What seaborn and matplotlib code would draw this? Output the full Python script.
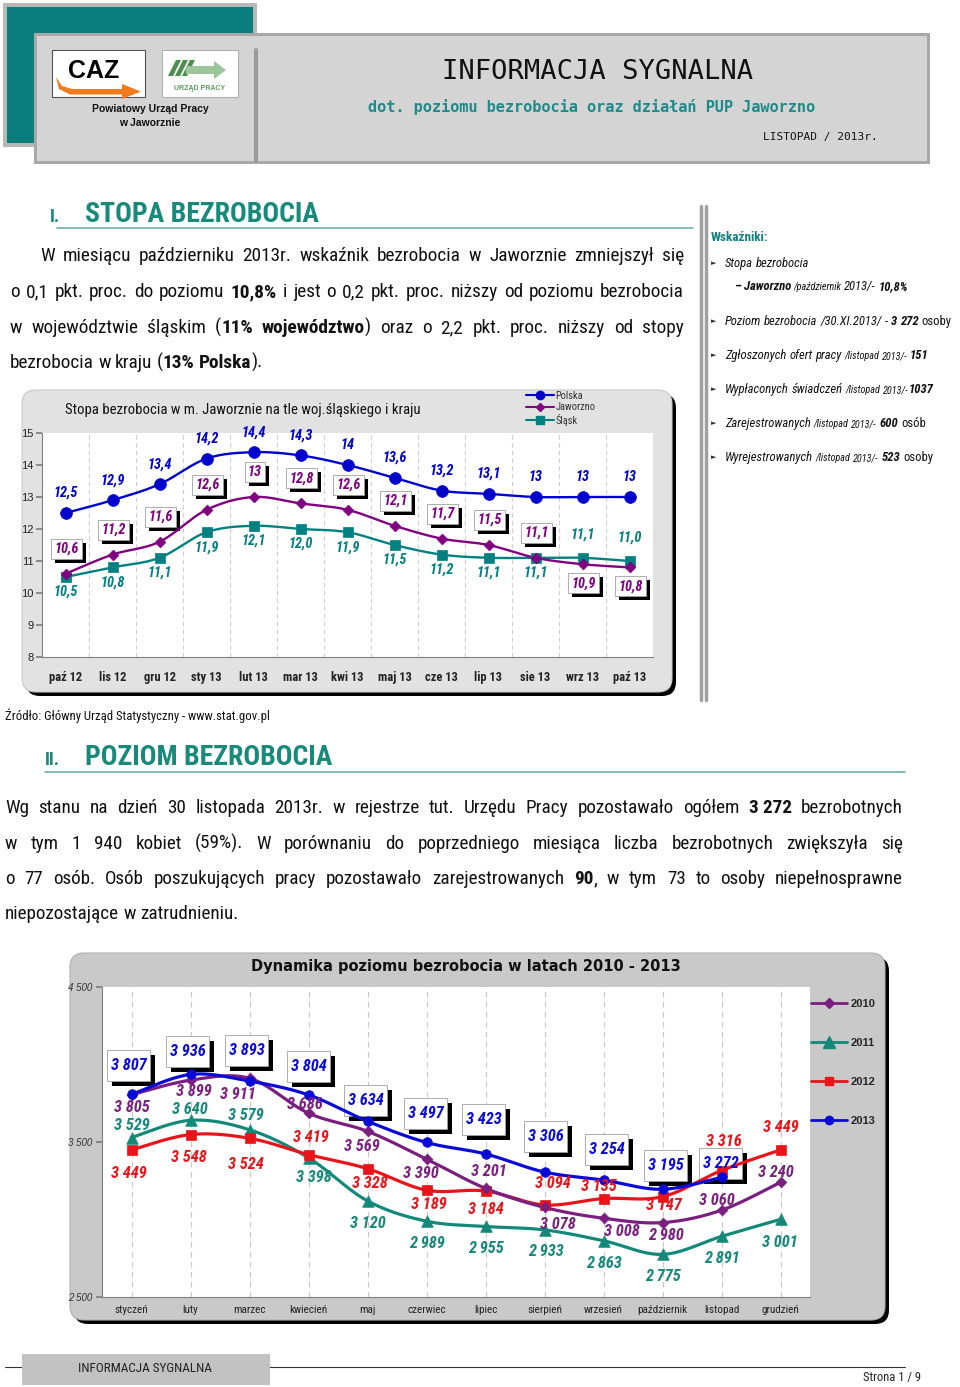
import numpy as np
import pandas as pd
import matplotlib
matplotlib.use("Agg")
import matplotlib.pyplot as plt
import seaborn as sns
from matplotlib.patches import Rectangle, FancyBboxPatch, Polygon
from matplotlib.lines import Line2D
from matplotlib import font_manager

# ---------------- data ----------------
months1 = ['paź 12', 'lis 12', 'gru 12', 'sty 13', 'lut 13', 'mar 13', 'kwi 13',
           'maj 13', 'cze 13', 'lip 13', 'sie 13', 'wrz 13', 'paź 13']
polska = [12.5, 12.9, 13.4, 14.2, 14.4, 14.3, 14.0, 13.6, 13.2, 13.1, 13.0, 13.0, 13.0]
jaworzno = [10.6, 11.2, 11.6, 12.6, 13.0, 12.8, 12.6, 12.1, 11.7, 11.5, 11.1, 10.9, 10.8]
slask = [10.5, 10.8, 11.1, 11.9, 12.1, 12.0, 11.9, 11.5, 11.2, 11.1, 11.1, 11.1, 11.0]
yticks1 = [8, 9, 10, 11, 12, 13, 14, 15]

months2 = ['styczeń', 'luty', 'marzec', 'kwiecień', 'maj', 'czerwiec', 'lipiec',
           'sierpień', 'wrzesień', 'październik', 'listopad', 'grudzień']
y2010 = [3805, 3899, 3911, 3686, 3569, 3390, 3201, 3078, 3008, 2980, 3060, 3240]
y2011 = [3529, 3640, 3579, 3398, 3120, 2989, 2955, 2933, 2863, 2775, 2891, 3001]
y2012 = [3449, 3548, 3524, 3419, 3328, 3189, 3184, 3094, 3135, 3147, 3316, 3449]
y2013 = [3807, 3936, 3893, 3804, 3634, 3497, 3423, 3306, 3254, 3195, 3272]
yticks2 = [2500, 3500, 4500]

# ---------------- label layout offsets (pixels) ----------------
off_2010 = [(0, -13), (3, -11), (-12, -16), (-4, 9), (-6, -15), (-6, -14), (3, 17),
            (13, -17), (18, -13), (3, -13), (-5, 10), (-5, 10)]
off_2011 = [(0, 12), (-1, 11), (-4, 14), (5, -20), (0, -23), (0, -22), (0, -22),
            (1, -22), (0, -23), (0, -22), (0, -22), (-1, -23)]
off_2012 = [(-3, -24), (-2, -23), (-4, -26), (2, 17), (2, -15), (2, -14), (0, -19),
            (8, 21), (-5, 12), (1, -9), (2, 29), (0, 22)]
off_2013 = [(-3, 29), (-3, 23), (-3, 31), (0, 28), (-2, 21), (-1, 29), (-2, 34),
            (1, 36), (3, 31), (3, 24), (-1, 14)]

sns.set_theme(style="white")

# ---- find a condensed face if one is installed ----
_fl = font_manager.fontManager.ttflist
_names = sorted({f.name for f in _fl})
NARROW_NAME, NARROW_STRETCH = None, "normal"
for pref in ["Liberation Sans Narrow", "Arial Narrow", "Nimbus Sans Narrow",
             "Roboto Condensed", "Open Sans Condensed", "Noto Sans Condensed",
             "DejaVu Sans Condensed", "Ubuntu Condensed"]:
    if pref in _names:
        NARROW_NAME = pref
        break
if NARROW_NAME is None:
    for n in _names:
        if "narrow" in n.lower() or "condensed" in n.lower():
            NARROW_NAME = n
            break
if NARROW_NAME is None:
    for f in _fl:
        st = f.stretch
        if (isinstance(st, str) and "condensed" in st) or (isinstance(st, int) and st < 500):
            NARROW_NAME, NARROW_STRETCH = f.name, st
            break
if NARROW_NAME is None:
    NARROW = ["Liberation Sans", "DejaVu Sans"]
    NS = 0.84
else:
    NARROW = [NARROW_NAME, "Liberation Sans", "DejaVu Sans"]
    NS = 1.0

ARIAL = ["Liberation Sans", "DejaVu Sans"]
MONO = ["DejaVu Sans Mono", "DejaVu Sans"]
plt.rcParams["font.family"] = NARROW

W, H = 960, 1387
fig = plt.figure(figsize=(W / 100, H / 100), dpi=100)
fig.patch.set_facecolor("white")
bg = fig.add_axes([0, 0, 1, 1])
bg.set_xlim(0, W)
bg.set_ylim(H, 0)
bg.axis("off")
bg.set_zorder(0)
R = fig.canvas.get_renderer()


def axrect(x0, y0, x1, y1):
    return [x0 / W, 1 - y1 / H, (x1 - x0) / W, (y1 - y0) / H]


def P(size, bold=False, italic=False, color="#111111", family=None):
    d = dict(fontsize=size * NS, fontweight="bold" if bold else "normal",
             fontstyle="italic" if italic else "normal", color=color,
             family=family if family else NARROW)
    if NARROW_STRETCH != "normal":
        d["fontstretch"] = NARROW_STRETCH
    return d


_wc = {}


def tw(s, p):
    key = (s, tuple(sorted((k, str(v)) for k, v in p.items())))
    if key not in _wc:
        t = bg.text(0, 0, s, **p)
        _wc[key] = t.get_window_extent(R).width
        t.remove()
    return _wc[key]


def sw(p):
    return tw("n n", p) - tw("nn", p)


def draw_runs(x, y, runs):
    for txt, p in runs:
        parts = txt.split(" ")
        for i, part in enumerate(parts):
            if i > 0:
                x += sw(p)
            if part:
                bg.text(x, y, part, ha="left", va="baseline", **p)
                x += tw(part, p)
    return x


def para(lines, x0s, x1, ys, size, justify_last=False):
    bold = False
    for li, line in enumerate(lines):
        words = []
        for word in line.split(" "):
            segs = []
            for k, part in enumerate(word.split("*")):
                if k > 0:
                    bold = not bold
                if part:
                    segs.append((part, P(size, bold)))
            if segs:
                words.append(segs)
        widths = [sum(tw(s, p) for s, p in w) for w in words]
        last = li == len(lines) - 1
        if (not last or justify_last) and len(words) > 1:
            gap = (x1 - x0s[li] - sum(widths)) / (len(words) - 1)
        else:
            gap = sw(P(size))
        x = x0s[li]
        for w, wd in zip(words, widths):
            xx = x
            for s, p in w:
                bg.text(xx, ys[li], s, ha="left", va="baseline", **p)
                xx += tw(s, p)
            x += wd + gap


def smooth(xs, ys, n=24):
    pts = np.column_stack([xs, ys]).astype(float)
    out = [pts[0]]
    t = np.linspace(0, 1, n)[1:, None]
    for i in range(len(pts) - 1):
        p0 = pts[i - 1] if i > 0 else pts[i]
        p1, p2 = pts[i], pts[i + 1]
        p3 = pts[i + 2] if i + 2 < len(pts) else pts[i + 1]
        c1 = p1 + (p2 - p0) / 6
        c2 = p2 - (p3 - p1) / 6
        seg = (1 - t) ** 3 * p1 + 3 * (1 - t) ** 2 * t * c1 + 3 * (1 - t) * t ** 2 * c2 + t ** 3 * p2
        out.extend(seg)
    out = np.array(out)
    return out[:, 0], out[:, 1]


def add_boxes(ax, texts, padx, pady, sh):
    inv = ax.transData.inverted()
    for t in texts:
        bb = t.get_window_extent(R)
        x0, y0 = bb.x0 - padx, bb.y0 - pady
        x1, y1 = bb.x1 + padx, bb.y1 + pady
        a = inv.transform((x0 + sh, y0 - sh)); b = inv.transform((x1 + sh, y1 - sh))
        ax.add_patch(Rectangle(a, b[0] - a[0], b[1] - a[1], fc="black", ec="none",
                               zorder=1.5, clip_on=False))
        a = inv.transform((x0, y0)); b = inv.transform((x1, y1))
        ax.add_patch(Rectangle(a, b[0] - a[0], b[1] - a[1], fc="white", ec="#a0a0a0",
                               lw=0.6, zorder=1.6, clip_on=False))


def fmt_g(v):
    return str(int(v)) if float(v).is_integer() else f"{v:.1f}".replace(".", ",")


def fmt_1(v):
    return f"{v:.1f}".replace(".", ",")


def fmt_k(v):
    return f"{int(v):,}".replace(",", " ")


# ---------------- header ----------------
TEAL = "#0b7d7d"
HEAD = "#178a7a"
bg.add_patch(Rectangle((3, 3), 254, 144, fc="#b8b8b8", ec="none"))
bg.add_patch(Rectangle((7, 7), 246, 136, fc=TEAL, ec="none"))
bg.add_patch(Rectangle((34, 33), 896, 131, fc="#a8a8a8", ec="none"))
bg.add_patch(Rectangle((37, 36), 890, 125, fc="#d4d4d4", ec="none"))
bg.plot([256, 256], [50, 161], color="#9a9a9a", lw=3)
bg.add_patch(Rectangle((52, 50), 93, 47, fc="white", ec="#555555", lw=0.8))
bg.add_patch(Polygon([(56, 77), (62, 86), (72, 89), (122, 89), (122, 84), (141, 91.5),
                      (122, 99), (122, 94.5), (70, 94.5), (59, 89)], closed=True,
                     fc="#f07a1e", ec="none"))
bg.text(94, 71, "CAZ", ha="center", va="center", fontsize=18, fontweight="bold",
        family=ARIAL, color="black")
bg.add_patch(Rectangle((162, 50), 76, 47, fc="white", ec="#b0b0b0", lw=0.8))
for dx in (0, 7, 14):
    bg.add_patch(Polygon([(168 + dx, 76), (176 + dx, 60), (181 + dx, 60), (173 + dx, 76)],
                         closed=True, fc="#4e8e4e", ec="none"))
bg.add_patch(Polygon([(186, 66), (214, 66), (214, 61), (226, 70), (214, 79), (214, 74), (186, 74)],
                     closed=True, fc="#9cc59c", ec="none"))
bg.text(200, 88, "URZĄD PRACY", ha="center", va="center", fontsize=5, fontweight="bold",
        family=ARIAL, color="#5c9c5c")
bg.text(150, 109, "Powiatowy Urząd Pracy", ha="center", va="center", fontsize=7.5,
        fontweight="bold", family=ARIAL, color="#111")
bg.text(150, 123, "w Jaworznie", ha="center", va="center", fontsize=7.5,
        fontweight="bold", family=ARIAL, color="#111")
bg.text(598, 72, "INFORMACJA SYGNALNA", ha="center", va="center", fontsize=19.5,
        family=MONO, color="#111")
bg.text(592, 107, "dot. poziomu bezrobocia oraz działań PUP Jaworzno", ha="center",
        va="center", fontsize=11, fontweight="bold", family=MONO, color="#1f8a8a")
bg.text(820, 137, "LISTOPAD / 2013r.", ha="center", va="center", fontsize=8,
        family=MONO, color="#111")

# ---------------- section I ----------------
bg.text(50, 222, "I.", ha="left", va="baseline", **P(13, True, color=HEAD))
bg.text(85, 222, "STOPA BEZROBOCIA", ha="left", va="baseline", **P(20, True, color=HEAD))
bg.plot([57, 693], [228, 228], color="#6fb0a6", lw=1.2)
para(["W miesiącu październiku 2013r. wskaźnik bezrobocia w Jaworznie zmniejszył się",
      "o 0,1 pkt. proc. do poziomu *10,8%* i jest o 0,2 pkt. proc. niższy od poziomu bezrobocia",
      "w województwie śląskim (*11% województwo*) oraz o 2,2 pkt. proc. niższy od stopy",
      "bezrobocia w kraju (*13% Polska*)."],
     [40, 10, 10, 10], 684, [261, 297, 333, 368], 13.9)

# sidebar
bg.plot([701, 701], [206, 700], color="#a0a0a0", lw=2.5)
bg.plot([706, 706], [206, 700], color="#a0a0a0", lw=2.5)
bg.text(711, 241, "Wskaźniki:", ha="left", va="baseline", **P(9.5, True, color="#138080"))
IT = P(9.1, False, True)
SM = P(7.3, False, True)
BI = P(9.1, True, True)
RG = P(9.1)
side = [
    (725, 267, True, [("Stopa bezrobocia", IT)]),
    (734, 290, False, [("– ", BI), ("Jaworzno", BI), (" /październik", SM), (" 2013/- ", IT), ("10,8%", BI)]),
    (725, 325, True, [("Poziom bezrobocia /30.XI.2013/ - ", IT), ("3 272", BI), (" osoby", RG)]),
    (725, 359, True, [("Zgłoszonych ofert pracy ", IT), ("/listopad 2013/-", SM), (" 151", BI)]),
    (725, 393, True, [("Wypłaconych świadczeń ", IT), ("/listopad 2013/-", SM), ("1037", BI)]),
    (725, 427, True, [("Zarejestrowanych ", IT), ("/listopad 2013/-", SM), (" 600", BI), (" osób", RG)]),
    (725, 461, True, [("Wyrejestrowanych ", IT), ("/listopad 2013/-", SM), (" 523", BI), (" osoby", RG)]),
]
for x, y, bullet, runs in side:
    if bullet:
        bg.text(714, y - 3.5, "►", ha="center", va="center", fontsize=5,
                family=["DejaVu Sans"], color="#333")
    draw_runs(x, y, runs)

# ---------------- chart 1 ----------------
bg.add_patch(FancyBboxPatch((26, 394), 650, 302, boxstyle="round,pad=0,rounding_size=14",
                            fc="black", ec="none"))
bg.add_patch(FancyBboxPatch((22, 390), 650, 302, boxstyle="round,pad=0,rounding_size=14",
                            fc="#e2e2e2", ec="#c8c8c8", lw=0.8))
bg.text(65, 410, "Stopa bezrobocia w m. Jaworznie na tle woj.śląskiego i kraju",
        ha="left", va="center", **P(10.6, color="#111"))

ax1 = fig.add_axes(axrect(42, 433, 653, 657))
ax1.set_zorder(2)
ax1.set_facecolor("white")
x1 = np.arange(len(months1))
ax1.set_xlim(-0.5, len(months1) - 0.5)
ax1.set_ylim(yticks1[0], yticks1[-1])
for xv in np.arange(0.5, len(months1) - 0.5, 1):
    ax1.axvline(xv, color="#cfcfcf", lw=0.8, ls=(0, (4, 3)), zorder=0)

C_PL, C_JA, C_SL = "#0000cc", "#800080", "#008080"
series1 = [(slask, C_SL, "s", 62), (jaworzno, C_JA, "D", 30), (polska, C_PL, "o", 72)]
for vals, col, mk, s in series1:
    sx, sy = smooth(x1, vals)
    ax1.plot(sx, sy, color=col, lw=1.7, zorder=3)
    sns.scatterplot(x=x1, y=vals, ax=ax1, marker=mk, s=s, color=col, edgecolor=col,
                    linewidth=0.5, zorder=4, legend=False)

LBL = P(10.3, True, True)
lab = dict(ha="center", va="center", textcoords="offset pixels", zorder=6,
           annotation_clip=False)
lab.update({k: v for k, v in LBL.items() if k != "color"})
for i, v in enumerate(polska):
    ax1.annotate(fmt_g(v), (x1[i], v), xytext=(0, 20), color=C_PL, **lab)
jt = []
for i, v in enumerate(jaworzno):
    dy = 25 if i < len(jaworzno) - 2 else -19
    jt.append(ax1.annotate(fmt_g(v), (x1[i], v), xytext=(1, dy), color=C_JA, **lab))
for i, v in enumerate(slask):
    dy = -15 if i < len(slask) - 2 else 23
    ax1.annotate(fmt_1(v), (x1[i], v), xytext=(0, dy), color=C_SL, **lab)
add_boxes(ax1, jt, 3, 3, 4)

ax1.set_yticks(yticks1)
ax1.set_yticklabels([str(v) for v in yticks1], fontsize=8, family=ARIAL, color="#222")
ax1.set_xticks(x1)
XB = P(9, True, color="#222")
ax1.set_xticklabels(months1, **XB)
ax1.set_xticks(np.arange(-0.5, len(months1), 1), minor=True)
ax1.tick_params(axis="x", which="major", length=0, pad=10)
ax1.tick_params(axis="x", which="minor", length=4, color="#808080", direction="out")
ax1.tick_params(axis="y", length=4, pad=2, color="#808080", direction="out", left=True)
for sp in ("top", "right"):
    ax1.spines[sp].set_visible(False)
for sp in ("left", "bottom"):
    ax1.spines[sp].set_color("#808080")
    ax1.spines[sp].set_linewidth(0.8)
ax1.set_xlabel("")
ax1.set_ylabel("")
h1 = [Line2D([], [], color=C_PL, marker="o", markersize=6, lw=1.5),
      Line2D([], [], color=C_JA, marker="D", markersize=4, lw=1.5),
      Line2D([], [], color=C_SL, marker="s", markersize=5.5, lw=1.5)]
LG1 = P(7.5, color="#333")
leg1 = ax1.legend(h1, ["Polska", "Jaworzno", "Śląsk"], loc="upper left",
                  bbox_to_anchor=(526 / W, 1 - 391 / H), bbox_transform=fig.transFigure,
                  frameon=False, prop=dict(size=LG1["fontsize"], family=NARROW),
                  labelspacing=0.12, handlelength=2.7,
                  handletextpad=0.15, borderpad=0, borderaxespad=0)
for t in leg1.get_texts():
    t.set_color("#333")

bg.text(5, 720, "Źródło: Główny Urząd Statystyczny - www.stat.gov.pl", ha="left",
        va="baseline", **P(9.2, color="#111"))

# ---------------- section II ----------------
bg.text(45, 765, "II.", ha="left", va="baseline", **P(13, True, color=HEAD))
bg.text(85, 765, "POZIOM BEZROBOCIA", ha="left", va="baseline", **P(20, True, color=HEAD))
bg.plot([45, 905], [772, 772], color="#6fb0a6", lw=1.2)
para(["Wg stanu na dzień 30 listopada 2013r. w rejestrze tut. Urzędu Pracy pozostawało ogółem *3\u00a0272* bezrobotnych",
      "w tym 1 940 kobiet (59%). W porównaniu do poprzedniego miesiąca liczba bezrobotnych zwiększyła się",
      "o 77 osób. Osób poszukujących pracy pozostawało zarejestrowanych *90*, w tym 73 to osoby niepełnosprawne",
      "niepozostające w zatrudnieniu."],
     [5, 5, 5, 5], 903, [813, 849, 884, 919], 13.8)

# ---------------- chart 2 ----------------
bg.add_patch(FancyBboxPatch((74, 957), 815, 367, boxstyle="round,pad=0,rounding_size=14",
                            fc="black", ec="none"))
bg.add_patch(FancyBboxPatch((70, 953), 815, 367, boxstyle="round,pad=0,rounding_size=14",
                            fc="#c9c9c9", ec="#b0b0b0", lw=0.8))
bg.text(466, 967, "Dynamika poziomu bezrobocia w latach 2010 - 2013", ha="center",
        va="center", fontsize=10.5, fontweight="bold", family=["DejaVu Sans"], color="#111")

ax2 = fig.add_axes(axrect(102, 987, 810, 1297))
ax2.set_zorder(2)
ax2.set_facecolor("white")
x2 = np.arange(len(months2))
ax2.set_xlim(-0.5, len(months2) - 0.5)
ax2.set_ylim(yticks2[0], yticks2[-1])
for xv in x2:
    ax2.axvline(xv, color="#c8c8c8", lw=0.8, ls=(0, (5, 4)), zorder=0)

C10, C11, C12, C13 = "#7a1f7f", "#14897a", "#e8141a", "#0a0ad8"
series2 = [(y2011, C11, "^", 70, off_2011, False),
           (y2012, C12, "s", 44, off_2012, False),
           (y2010, C10, "D", 30, off_2010, False),
           (y2013, C13, "o", 48, off_2013, True)]
boxes2 = []
LB2 = P(11.8, True, True)
lab2 = dict(ha="center", va="center", textcoords="offset pixels", zorder=6,
            annotation_clip=False)
lab2.update({k: v for k, v in LB2.items() if k != "color"})
for vals, col, mk, s, offs, boxed in series2:
    xx = x2[:len(vals)]
    sx, sy = smooth(xx, vals)
    ax2.plot(sx, sy, color=col, lw=2.3, zorder=3)
    sns.scatterplot(x=xx, y=vals, ax=ax2, marker=mk, s=s, color=col, edgecolor=col,
                    linewidth=0.5, zorder=4, legend=False)
    for i, v in enumerate(vals):
        t = ax2.annotate(fmt_k(v), (xx[i], v), xytext=offs[i], color=col, **lab2)
        if boxed:
            boxes2.append(t)
add_boxes(ax2, boxes2, 4, 8, 5)

ax2.set_yticks(yticks2)
ax2.set_yticklabels([fmt_k(v) for v in yticks2], fontsize=7, fontstyle="italic",
                    family=ARIAL, color="#333")
ax2.set_xticks(x2)
ax2.set_xticklabels(months2, **P(8, color="#222"))
ax2.set_xticks(np.arange(-0.5, len(months2), 1), minor=True)
ax2.tick_params(axis="x", which="major", length=0, pad=6)
ax2.tick_params(axis="x", which="minor", length=4, color="#808080", direction="out")
ax2.tick_params(axis="y", length=4, pad=3, color="#808080", direction="out", left=True)
for sp in ("top", "right"):
    ax2.spines[sp].set_visible(False)
for sp in ("left", "bottom"):
    ax2.spines[sp].set_color("#808080")
    ax2.spines[sp].set_linewidth(0.8)
ax2.set_xlabel("")
ax2.set_ylabel("")
h2 = [Line2D([], [], color=C10, marker="D", markersize=5, lw=2),
      Line2D([], [], color=C11, marker="^", markersize=8, lw=2),
      Line2D([], [], color=C12, marker="s", markersize=6, lw=2),
      Line2D([], [], color=C13, marker="o", markersize=6, lw=2)]
leg2 = ax2.legend(h2, ["2010", "2011", "2012", "2013"], loc="upper left",
                  bbox_to_anchor=(811 / W, 1 - 999 / H), bbox_transform=fig.transFigure,
                  frameon=False, prop=dict(size=8, weight="bold", family=ARIAL),
                  labelspacing=2.6, handlelength=3.2, handletextpad=0.35,
                  borderpad=0, borderaxespad=0)

# ---------------- footer ----------------
bg.plot([5, 905], [1367, 1367], color="#333", lw=0.8)
bg.add_patch(Rectangle((22, 1354), 248, 31, fc="#c2c2c2", ec="none", zorder=2))
bg.text(145, 1369, "INFORMACJA SYGNALNA", ha="center", va="center", zorder=3,
        **P(9.5, color="#222"))
bg.text(921, 1377, "Strona 1 / 9", ha="right", va="center", **P(9, color="#222"))

fig.savefig("out.png", dpi=100, facecolor="white")
